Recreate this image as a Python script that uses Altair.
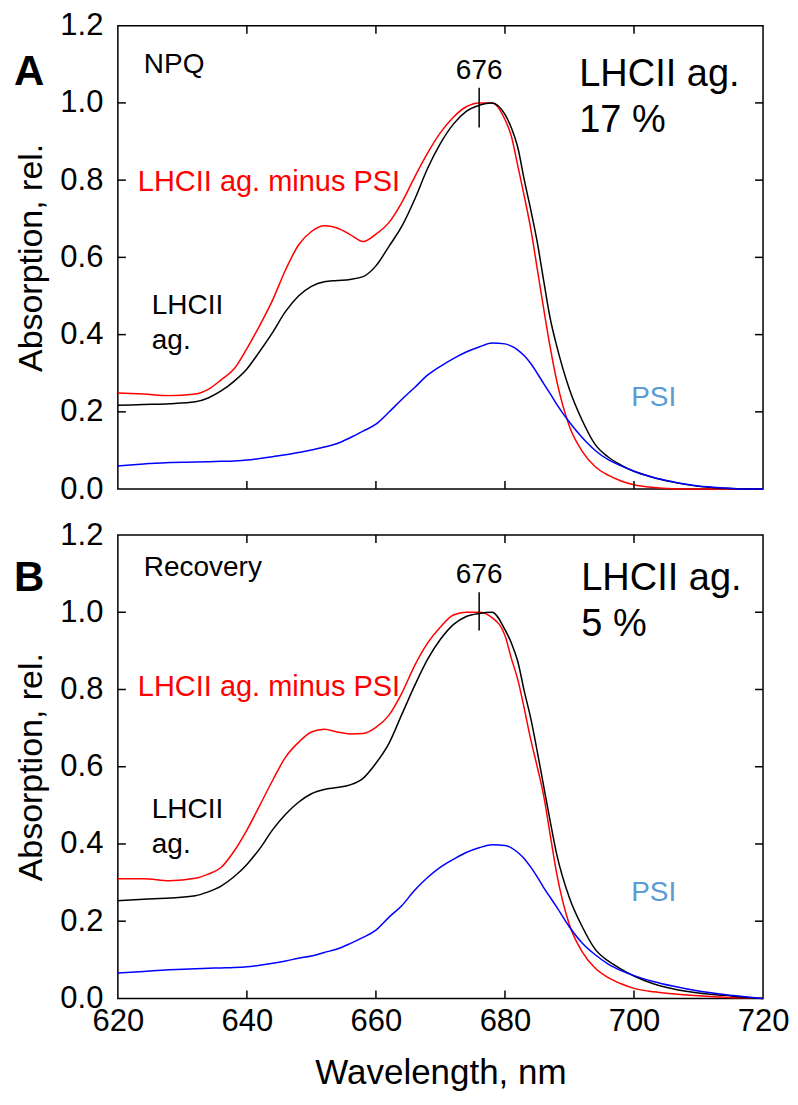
import altair as alt
import pandas as pd

# ---------------- data ----------------
WL = [620, 624, 628, 632, 634, 636, 638, 640, 642, 644, 646, 648, 650, 652, 654, 656,
      658, 660, 662, 664, 666, 668, 670, 672, 674, 676, 678, 680, 681, 682, 683, 684,
      685, 686, 687, 688, 690, 692, 694, 696, 698, 700, 703, 706, 710, 714, 718, 720]

# Panel A (NPQ)
A_MINUS = [0.249, 0.246, 0.242, 0.246, 0.258, 0.283, 0.311, 0.364, 0.424, 0.490, 0.568, 0.632,
           0.667, 0.682, 0.676, 0.659, 0.641, 0.660, 0.690, 0.742, 0.808, 0.870, 0.923, 0.963,
           0.990, 1.000, 1.000, 0.957, 0.913, 0.836, 0.758, 0.674, 0.571, 0.467, 0.368, 0.282,
           0.162, 0.097, 0.058, 0.036, 0.021, 0.011, 0.004, 0.001, 0.0, 0.0, 0.0, 0.0]
A_LHCII = [0.217, 0.219, 0.221, 0.226, 0.236, 0.254, 0.279, 0.311, 0.357, 0.406, 0.460, 0.500,
           0.525, 0.537, 0.540, 0.543, 0.550, 0.578, 0.628, 0.680, 0.750, 0.830, 0.895, 0.945,
           0.978, 0.994, 1.000, 0.970, 0.935, 0.884, 0.800, 0.723, 0.640, 0.540, 0.443, 0.372,
           0.258, 0.177, 0.115, 0.083, 0.062, 0.046, 0.030, 0.018, 0.007, 0.002, 0.0, 0.0]
A_PSI = [0.060, 0.065, 0.069, 0.070, 0.071, 0.072, 0.073, 0.075, 0.079, 0.084, 0.089, 0.095,
         0.101, 0.109, 0.118, 0.133, 0.150, 0.168, 0.199, 0.232, 0.263, 0.295, 0.318, 0.338,
         0.355, 0.368, 0.378, 0.376, 0.370, 0.360, 0.345, 0.325, 0.300, 0.273, 0.247, 0.220,
         0.173, 0.133, 0.100, 0.076, 0.060, 0.046, 0.030, 0.019, 0.008, 0.003, 0.0, 0.0]

# Panel B (Recovery)
B_MINUS = [0.310, 0.310, 0.305, 0.311, 0.322, 0.339, 0.381, 0.436, 0.500, 0.565, 0.625, 0.663,
           0.690, 0.697, 0.690, 0.685, 0.686, 0.702, 0.733, 0.790, 0.862, 0.920, 0.962, 0.993,
           1.000, 1.000, 0.986, 0.940, 0.880, 0.825, 0.750, 0.670, 0.600, 0.525, 0.425, 0.325,
           0.190, 0.120, 0.078, 0.054, 0.038, 0.026, 0.017, 0.012, 0.007, 0.003, 0.001, 0.0]
B_LHCII = [0.253, 0.257, 0.260, 0.266, 0.276, 0.291, 0.315, 0.347, 0.388, 0.437, 0.477, 0.508,
           0.530, 0.541, 0.546, 0.553, 0.570, 0.609, 0.660, 0.735, 0.810, 0.878, 0.930, 0.968,
           0.989, 0.997, 1.000, 0.955, 0.920, 0.872, 0.795, 0.725, 0.640, 0.550, 0.460, 0.375,
           0.260, 0.185, 0.127, 0.097, 0.076, 0.058, 0.038, 0.025, 0.014, 0.008, 0.002, 0.0]
B_PSI = [0.066, 0.070, 0.074, 0.077, 0.078, 0.079, 0.080, 0.082, 0.086, 0.091, 0.097, 0.104,
         0.110, 0.119, 0.128, 0.142, 0.158, 0.177, 0.210, 0.240, 0.280, 0.313, 0.340, 0.360,
         0.378, 0.390, 0.398, 0.396, 0.390, 0.378, 0.362, 0.340, 0.315, 0.287, 0.262, 0.237,
         0.185, 0.143, 0.113, 0.089, 0.072, 0.059, 0.044, 0.032, 0.019, 0.010, 0.003, 0.0]

SERIES = ["LHCII ag. minus PSI", "LHCII ag.", "PSI"]
COLORS = ["#ff0000", "#000000", "#0000ff"]

X_LABELS = [620, 640, 660, 680, 700, 720]
X_TICKS = [640, 660, 680, 700]
Y_LABELS = [0.0, 0.2, 0.4, 0.6, 0.8, 1.0, 1.2]
Y_TICKS = [0.2, 0.4, 0.6, 0.8, 1.0]

PEAK_NM = 676
PEAK_A = {"lo": 0.936, "hi": 1.039, "lab": 1.062}
PEAK_B = {"lo": 0.953, "hi": 1.052, "lab": 1.077}

FONT = "Liberation Sans"
W, H = 646, 464
TICK = 8


def long_df(minus, lhcii, psi):
    rows = []
    for name, vals in zip(SERIES, [minus, lhcii, psi]):
        for w, v in zip(WL, vals):
            rows.append({"wl": w, "val": v, "series": name})
    return pd.DataFrame(rows)


def one():
    return alt.Data(values=[{}])


def txt(text, x, y, size, color="black", weight="normal"):
    return alt.Chart(one()).mark_text(
        text=text, font=FONT, fontSize=size, color=color, fontWeight=weight,
        align="left", baseline="alphabetic"
    ).encode(x=alt.value(x), y=alt.value(y))


AXIS_STYLE = dict(ticks=False, domain=False, grid=False, labelFlush=False,
                  labelFont=FONT, titleFont=FONT, labelFontSize=31,
                  labelColor="black", titleColor="black", titleFontWeight="normal")


def panel(df, peak, bottom, letter, letter_y, cond, cond_y, red_y, lh_y, psi_y, pct, big_x, big_y):
    x_scale = alt.Scale(domain=[620, 720], nice=False, zero=False)
    y_scale = alt.Scale(domain=[0, 1.2], nice=False, zero=False)
    if bottom:
        x_axis = alt.Axis(values=X_LABELS, format="d", title="Wavelength, nm",
                          labelPadding=8, titlePadding=19, titleFontSize=35, **AXIS_STYLE)
    else:
        x_axis = None
    y_axis = alt.Axis(values=Y_LABELS, format=".1f", title="Absorption, rel.",
                      labelPadding=15, titlePadding=11, titleFontSize=34, **AXIS_STYLE)

    def X(field):
        return alt.X(field, scale=x_scale, axis=x_axis)

    def Y(field):
        return alt.Y(field, scale=y_scale, axis=y_axis)

    lines = alt.Chart(df).mark_line(strokeWidth=1.5, interpolate="monotone").encode(
        x=X("wl:Q"),
        y=Y("val:Q"),
        color=alt.Color("series:N", scale=alt.Scale(domain=SERIES, range=COLORS), legend=None),
    )

    ydf = pd.DataFrame({"val": Y_TICKS})
    xdf = pd.DataFrame({"wl": X_TICKS})
    tick_style = dict(color="black", strokeWidth=1.5)
    left = alt.Chart(ydf).mark_rule(**tick_style).encode(
        y=Y("val:Q"), x=alt.value(0), x2=alt.value(TICK))
    right = alt.Chart(ydf).mark_rule(**tick_style).encode(
        y=Y("val:Q"), x=alt.value(W - TICK), x2=alt.value(W))
    top = alt.Chart(xdf).mark_rule(**tick_style).encode(
        x=X("wl:Q"), y=alt.value(0), y2=alt.value(TICK))
    bot = alt.Chart(xdf).mark_rule(**tick_style).encode(
        x=X("wl:Q"), y=alt.value(H - TICK), y2=alt.value(H))

    pk = pd.DataFrame([{"wl": PEAK_NM, "val": peak["lo"], "hi": peak["hi"], "lab": peak["lab"]}])
    prule = alt.Chart(pk).mark_rule(color="black", strokeWidth=1.5).encode(
        x=X("wl:Q"), y=Y("val:Q"), y2="hi:Q")
    plabel = alt.Chart(pk).mark_text(
        text=str(PEAK_NM), font=FONT, fontSize=28, color="black", align="center",
        baseline="alphabetic"
    ).transform_calculate(val="datum.lab").encode(x=X("wl:Q"), y=Y("val:Q"))

    texts = [
        txt(letter, -104, letter_y, 42, weight="bold"),
        txt(cond, 26, cond_y, 28),
        txt("LHCII ag. minus PSI", 20, red_y, 29, color="#ff0000"),
        txt("LHCII", 34, lh_y, 28),
        txt("ag.", 34, lh_y + 35, 28),
        txt("PSI", 514, psi_y, 28, color="#5b9bd5"),
        txt("LHCII ag.", big_x, big_y, 38),
        txt(pct, big_x, big_y + 46, 38),
    ]
    return alt.layer(lines, left, right, top, bot, prule, plabel, *texts).properties(width=W, height=H)


panel_a = panel(long_df(A_MINUS, A_LHCII, A_PSI), PEAK_A, False,
                "A", 59, "NPQ", 47, 166, 289, 381, "17 %", 462, 60)
panel_b = panel(long_df(B_MINUS, B_LHCII, B_PSI), PEAK_B, True,
                "B", 56, "Recovery", 41, 161, 283, 366, "5 %", 464, 55)

chart = alt.vconcat(panel_a, panel_b, spacing=46, bounds="flush").properties(
    padding={"left": 5, "top": 0, "right": 0, "bottom": 0}
).configure_view(
    stroke="black", strokeWidth=1.5
)

chart.save("out.html", embed_options={"renderer": "svg", "actions": False})
